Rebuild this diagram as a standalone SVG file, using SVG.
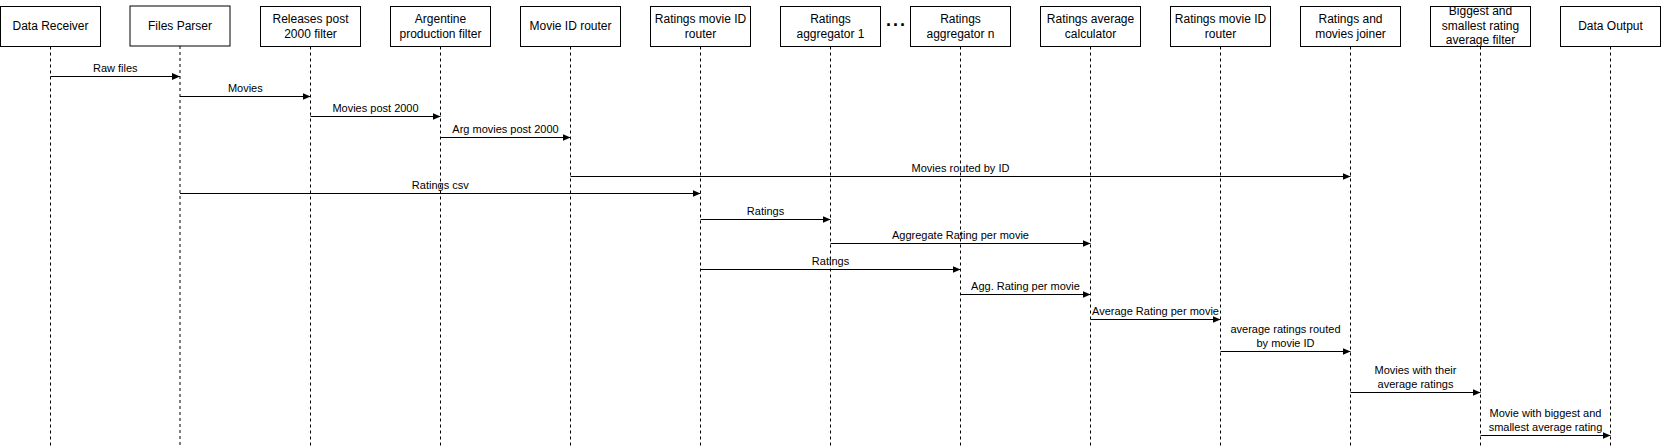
<svg xmlns="http://www.w3.org/2000/svg" width="1662" height="448" viewBox="0 0 1662 448">
<style>
.box{fill:#fff;stroke:#000;stroke-width:1}
.life{stroke:#000;stroke-width:1;stroke-dasharray:3 3;fill:none}
.msg{stroke:#000;stroke-width:1;fill:none;marker-end:url(#ah)}
.nt{font-family:"Liberation Sans",Helvetica,Arial,sans-serif;font-size:12px;fill:#000;text-anchor:middle}
.mt{font-family:"Liberation Sans",Helvetica,Arial,sans-serif;font-size:11px;fill:#000;text-anchor:middle}
.dots{font-family:"Liberation Sans",Helvetica,Arial,sans-serif;font-size:18px;font-weight:bold;fill:#000;letter-spacing:2px}
</style>
<defs>
<marker id="ah" markerUnits="userSpaceOnUse" markerWidth="9" markerHeight="8" refX="8" refY="3.5" orient="auto">
<path d="M0,0 L8,3.5 L0,7 z" fill="#000"/>
</marker>
</defs>
<rect width="1662" height="448" fill="#fff"/>

<g id="n0"><rect class="box" x="0.5" y="6.5" width="100" height="40"/><text class="nt" x="50.5" y="30.3">Data Receiver</text><line class="life" x1="50.5" y1="46.5" x2="50.5" y2="448"/></g>
<g id="n1"><rect class="box" x="130" y="6" width="100" height="40"/><text class="nt" x="180" y="30.3">Files Parser</text><line class="life" x1="180" y1="46" x2="180" y2="448"/></g>
<g id="n2"><rect class="box" x="260.5" y="6.5" width="100" height="40"/><text class="nt" x="310.5" y="23.4">Releases post</text><text class="nt" x="310.5" y="37.8">2000 filter</text><line class="life" x1="310.5" y1="46.5" x2="310.5" y2="448"/></g>
<g id="n3"><rect class="box" x="390.5" y="6.5" width="100" height="40"/><text class="nt" x="440.5" y="23.4">Argentine</text><text class="nt" x="440.5" y="37.8">production filter</text><line class="life" x1="440.5" y1="46.5" x2="440.5" y2="448"/></g>
<g id="n4"><rect class="box" x="520.5" y="6.5" width="100" height="40"/><text class="nt" x="570.5" y="30.3">Movie ID router</text><line class="life" x1="570.5" y1="46.5" x2="570.5" y2="448"/></g>
<g id="n5"><rect class="box" x="650.5" y="6.5" width="100" height="40"/><text class="nt" x="700.5" y="23.4">Ratings movie ID</text><text class="nt" x="700.5" y="37.8">router</text><line class="life" x1="700.5" y1="46.5" x2="700.5" y2="448"/></g>
<g id="n6"><rect class="box" x="780.5" y="6.5" width="100" height="40"/><text class="nt" x="830.5" y="23.4">Ratings</text><text class="nt" x="830.5" y="37.8">aggregator 1</text><line class="life" x1="830.5" y1="46.5" x2="830.5" y2="448"/></g>
<g id="ellipsis"><text class="dots" x="886" y="26.3">...</text></g>
<g id="n7"><rect class="box" x="910.5" y="6.5" width="100" height="40"/><text class="nt" x="960.5" y="23.4">Ratings</text><text class="nt" x="960.5" y="37.8">aggregator n</text><line class="life" x1="960.5" y1="46.5" x2="960.5" y2="448"/></g>
<g id="n8"><rect class="box" x="1040.5" y="6.5" width="100" height="40"/><text class="nt" x="1090.5" y="23.4">Ratings average</text><text class="nt" x="1090.5" y="37.8">calculator</text><line class="life" x1="1090.5" y1="46.5" x2="1090.5" y2="448"/></g>
<g id="n9"><rect class="box" x="1170.5" y="6.5" width="100" height="40"/><text class="nt" x="1220.5" y="23.4">Ratings movie ID</text><text class="nt" x="1220.5" y="37.8">router</text><line class="life" x1="1220.5" y1="46.5" x2="1220.5" y2="448"/></g>
<g id="n10"><rect class="box" x="1300.5" y="6.5" width="100" height="40"/><text class="nt" x="1350.5" y="23.4">Ratings and</text><text class="nt" x="1350.5" y="37.8">movies joiner</text><line class="life" x1="1350.5" y1="46.5" x2="1350.5" y2="448"/></g>
<g id="n11"><rect class="box" x="1430.5" y="6.5" width="100" height="40"/><text class="nt" x="1480.5" y="15.3">Biggest and</text><text class="nt" x="1480.5" y="29.8">smallest rating</text><text class="nt" x="1480.5" y="44.3">average filter</text><line class="life" x1="1480.5" y1="46.5" x2="1480.5" y2="448"/></g>
<g id="n12"><rect class="box" x="1560.5" y="6.5" width="100" height="40"/><text class="nt" x="1610.5" y="30.3">Data Output</text><line class="life" x1="1610.5" y1="46.5" x2="1610.5" y2="448"/></g>

<g id="connectors">
<line class="msg" x1="50.5" y1="76.5" x2="180" y2="76.5"/><text class="mt" x="115.3" y="71.5">Raw files</text>
<line class="msg" x1="180" y1="96.5" x2="310.5" y2="96.5"/><text class="mt" x="245.3" y="91.5">Movies</text>
<line class="msg" x1="310.5" y1="116.5" x2="440.5" y2="116.5"/><text class="mt" x="375.5" y="111.5">Movies post 2000</text>
<line class="msg" x1="440.5" y1="137.5" x2="570.5" y2="137.5"/><text class="mt" x="505.5" y="132.5">Arg movies post 2000</text>
<line class="msg" x1="570.5" y1="176.5" x2="1350.5" y2="176.5"/><text class="mt" x="960.5" y="171.5">Movies routed by ID</text>
<line class="msg" x1="180" y1="193.5" x2="700.5" y2="193.5"/><text class="mt" x="440.3" y="188.5">Ratings csv</text>
<line class="msg" x1="700.5" y1="219.5" x2="830.5" y2="219.5"/><text class="mt" x="765.5" y="214.5">Ratings</text>
<line class="msg" x1="830.5" y1="243.5" x2="1090.5" y2="243.5"/><text class="mt" x="960.5" y="238.5">Aggregate Rating per movie</text>
<line class="msg" x1="700.5" y1="269.5" x2="960.5" y2="269.5"/><text class="mt" x="830.5" y="264.5">Ratings</text>
<line class="msg" x1="960.5" y1="294.5" x2="1090.5" y2="294.5"/><text class="mt" x="1025.5" y="289.5">Agg. Rating per movie</text>
<line class="msg" x1="1090.5" y1="319.5" x2="1220.5" y2="319.5"/><text class="mt" x="1155.5" y="314.5">Average Rating per movie</text>
<line class="msg" x1="1220.5" y1="351.5" x2="1350.5" y2="351.5"/><text class="mt" x="1285.5" y="333.3">average ratings routed</text><text class="mt" x="1285.5" y="346.5">by movie ID</text>
<line class="msg" x1="1350.5" y1="392.5" x2="1480.5" y2="392.5"/><text class="mt" x="1415.5" y="374.3">Movies with their</text><text class="mt" x="1415.5" y="387.5">average ratings</text>
<line class="msg" x1="1480.5" y1="435.5" x2="1610.5" y2="435.5"/><text class="mt" x="1545.5" y="417.3">Movie with biggest and</text><text class="mt" x="1545.5" y="430.5">smallest average rating</text>
</g>
</svg>
